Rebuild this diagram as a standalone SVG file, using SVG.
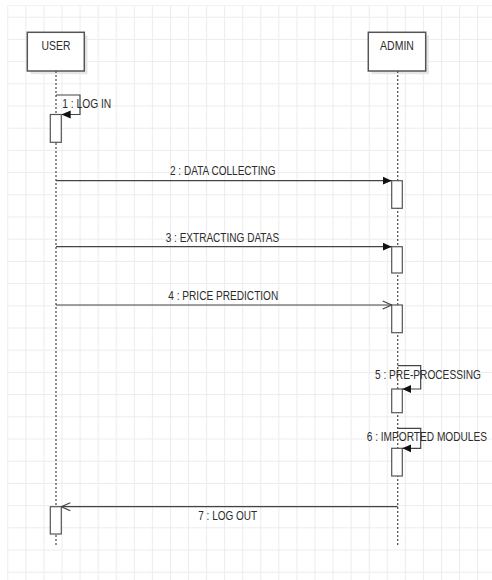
<svg xmlns="http://www.w3.org/2000/svg" width="492" height="580" viewBox="0 0 492 580">
  <defs>
    <pattern id="grid" x="7.3" y="16.7" width="18.07" height="22.2" patternUnits="userSpaceOnUse">
      <path d="M0.5 0V22.2M0 0.5H18.07" fill="none" stroke="#ececec" stroke-width="1"/>
    </pattern>
    <marker id="fill" viewBox="0 0 10 10" refX="10" refY="5" markerWidth="9" markerHeight="9" markerUnits="userSpaceOnUse" orient="auto">
      <path d="M0 0.5L10 5L0 9.5Z" fill="#111"/>
    </marker>
    <marker id="open" viewBox="0 0 10 10" refX="10" refY="5" markerWidth="10" markerHeight="10" markerUnits="userSpaceOnUse" orient="auto">
      <path d="M1 1L10 5L1 9" fill="none" stroke="#444" stroke-width="1.2"/>
    </marker>
  </defs>
  <style>
    .box{fill:#fff;stroke:#555;stroke-width:1.5}
    .shadow{fill:#e6e6e6}
    .life{stroke:#555;stroke-width:1.3;stroke-dasharray:2 2;fill:none}
    .act{fill:#fff;stroke:#555;stroke-width:1.2}
    .msg{stroke:#444;stroke-width:1.2;fill:none}
    .t{font-family:"Liberation Sans",Arial,sans-serif;font-size:12.5px;fill:#2b2b2b}
  </style>
  <rect width="492" height="580" fill="#fff"/>
  <rect x="7" y="5" width="485" height="575" fill="url(#grid)"/>
  <line x1="7" y1="5.5" x2="492" y2="5.5" stroke="#f2f2f2"/>

  <g id="user">
    <rect class="shadow" x="30.5" y="35.5" width="57" height="38.7"/>
    <rect class="box" x="27.3" y="32.3" width="57" height="38.7"/>
    <text class="t" transform="translate(56 50) scale(0.83 1)" text-anchor="middle">USER</text>
    <line class="life" x1="56" y1="71" x2="56" y2="546"/>
    <rect class="act" x="50.3" y="114.5" width="11" height="27.8"/>
    <rect class="act" x="50.3" y="506.7" width="11" height="27.3"/>
  </g>

  <g id="admin">
    <rect class="shadow" x="371.5" y="35.5" width="57.4" height="38.7"/>
    <rect class="box" x="368.3" y="32.3" width="57.4" height="38.7"/>
    <text class="t" transform="translate(397 50) scale(0.84 1)" text-anchor="middle">ADMIN</text>
    <line class="life" x1="397.7" y1="71" x2="397.7" y2="546"/>
    <rect class="act" x="391.7" y="180.7" width="10.6" height="27.6"/>
    <rect class="act" x="391.7" y="246.7" width="10.6" height="26.3"/>
    <rect class="act" x="391.7" y="305" width="10.6" height="27.7"/>
    <rect class="act" x="391.7" y="389" width="10.6" height="23.7"/>
    <rect class="act" x="391.7" y="448.3" width="10.6" height="27.7"/>
  </g>

  <g id="connectors">
    <path class="msg" d="M56 95H80V114.5H61.7" marker-end="url(#fill)"/>
    <text class="t" transform="translate(62.3 108) scale(0.82 1)">1 : LOG IN</text>

    <line class="msg" x1="56" y1="180.7" x2="391.7" y2="180.7" marker-end="url(#fill)"/>
    <text class="t" transform="translate(170 175) scale(0.803 1)">2 : DATA COLLECTING</text>

    <line class="msg" x1="56" y1="246.7" x2="391.7" y2="246.7" marker-end="url(#fill)"/>
    <text class="t" transform="translate(165.7 241.5) scale(0.804 1)">3 : EXTRACTING DATAS</text>

    <line class="msg" x1="56" y1="305" x2="391.7" y2="305" marker-end="url(#open)"/>
    <text class="t" transform="translate(168.3 300) scale(0.808 1)">4 : PRICE PREDICTION</text>

    <path class="msg" d="M397.7 365.7H420.7V389H402.3" marker-end="url(#fill)"/>
    <text class="t" transform="translate(375 379) scale(0.812 1)">5 : PRE-PROCESSING</text>

    <path class="msg" d="M397.7 428.3H420.7V448.3H402.3" marker-end="url(#fill)"/>
    <text class="t" transform="translate(366.7 441) scale(0.811 1)">6 : IMPORTED MODULES</text>

    <line class="msg" x1="397.7" y1="506.7" x2="61.3" y2="506.7" marker-end="url(#open)"/>
    <text class="t" transform="translate(198.3 520) scale(0.80 1)">7 : LOG OUT</text>
  </g>
</svg>
